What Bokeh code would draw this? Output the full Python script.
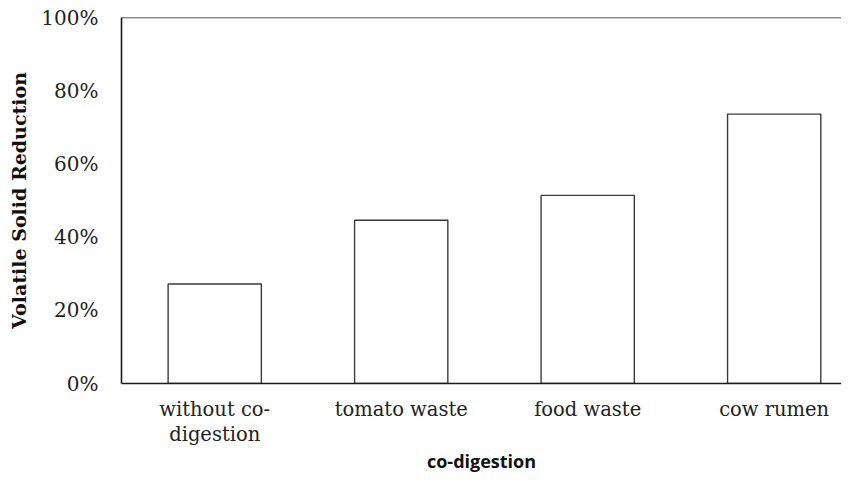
from bokeh.plotting import figure
from bokeh.models import ColumnDataSource, FixedTicker, Range1d, Span, NumeralTickFormatter
from bokeh.embed import file_html
from bokeh.resources import INLINE

categories = ["without co-\ndigestion", "tomato waste", "food waste", "cow rumen"]
values = [0.272, 0.446, 0.514, 0.736]
y_ticks = [0, 0.2, 0.4, 0.6, 0.8, 1.0]

positions = [i + 0.5 for i in range(len(categories))]
src = ColumnDataSource(dict(x=positions, top=values))

p = figure(width=841, height=475, output_backend="svg", toolbar_location=None,
           x_range=Range1d(0, 3.861), y_range=Range1d(0, 1.0),
           min_border_left=121, min_border_top=17, min_border_bottom=90, min_border_right=0)

p.vbar(x="x", top="top", width=0.5, bottom=0, source=src,
       fill_color="white", line_color="#3a3a3a", line_width=1.4)

p.grid.visible = False
p.outline_line_color = None
p.background_fill_color = "white"

serif = "DejaVu Serif"

p.yaxis.ticker = FixedTicker(ticks=y_ticks)
p.yaxis.formatter = NumeralTickFormatter(format="0%")
p.yaxis.major_tick_in = 0
p.yaxis.major_tick_out = 0
p.yaxis.minor_tick_in = 0
p.yaxis.minor_tick_out = 0
p.yaxis.major_label_standoff = 23
p.yaxis.major_label_text_font = serif
p.yaxis.major_label_text_font_size = "20px"
p.yaxis.major_label_text_color = "#222222"
p.yaxis.axis_line_color = "#1a1a1a"
p.yaxis.axis_line_width = 1.6
p.yaxis.axis_label = "Volatile Solid Reduction"
p.yaxis.axis_label_text_font = serif
p.yaxis.axis_label_text_font_style = "bold"
p.yaxis.axis_label_text_font_size = "19px"
p.yaxis.axis_label_text_color = "#111111"
p.yaxis.axis_label_standoff = 8

p.xaxis.ticker = FixedTicker(ticks=positions)
p.xaxis.major_label_overrides = {pos: lab for pos, lab in zip(positions, categories)}
p.xaxis.major_tick_in = 0
p.xaxis.major_tick_out = 0
p.xaxis.minor_tick_in = 0
p.xaxis.minor_tick_out = 0
p.xaxis.major_label_standoff = 14
p.xaxis.major_label_text_font = serif
p.xaxis.major_label_text_font_size = "19.5px"
p.xaxis.major_label_text_line_height = 1.1
p.xaxis.major_label_text_color = "#222222"
p.xaxis.axis_line_color = "#1a1a1a"
p.xaxis.axis_line_width = 1.6
p.xaxis.axis_label = "co-digestion"
p.xaxis.axis_label_text_font = "Open Sans"
p.xaxis.axis_label_text_font_style = "bold"
p.xaxis.axis_label_text_font_size = "18px"
p.xaxis.axis_label_text_line_height = 1.0
p.xaxis.axis_label_text_color = "#111111"
p.xaxis.axis_label_standoff = 0

top_line = Span(location=1.0, dimension="width", line_color="#1a1a1a", line_width=1.6)
p.add_layout(top_line)

open("out.html", "w").write(file_html(p, INLINE))
